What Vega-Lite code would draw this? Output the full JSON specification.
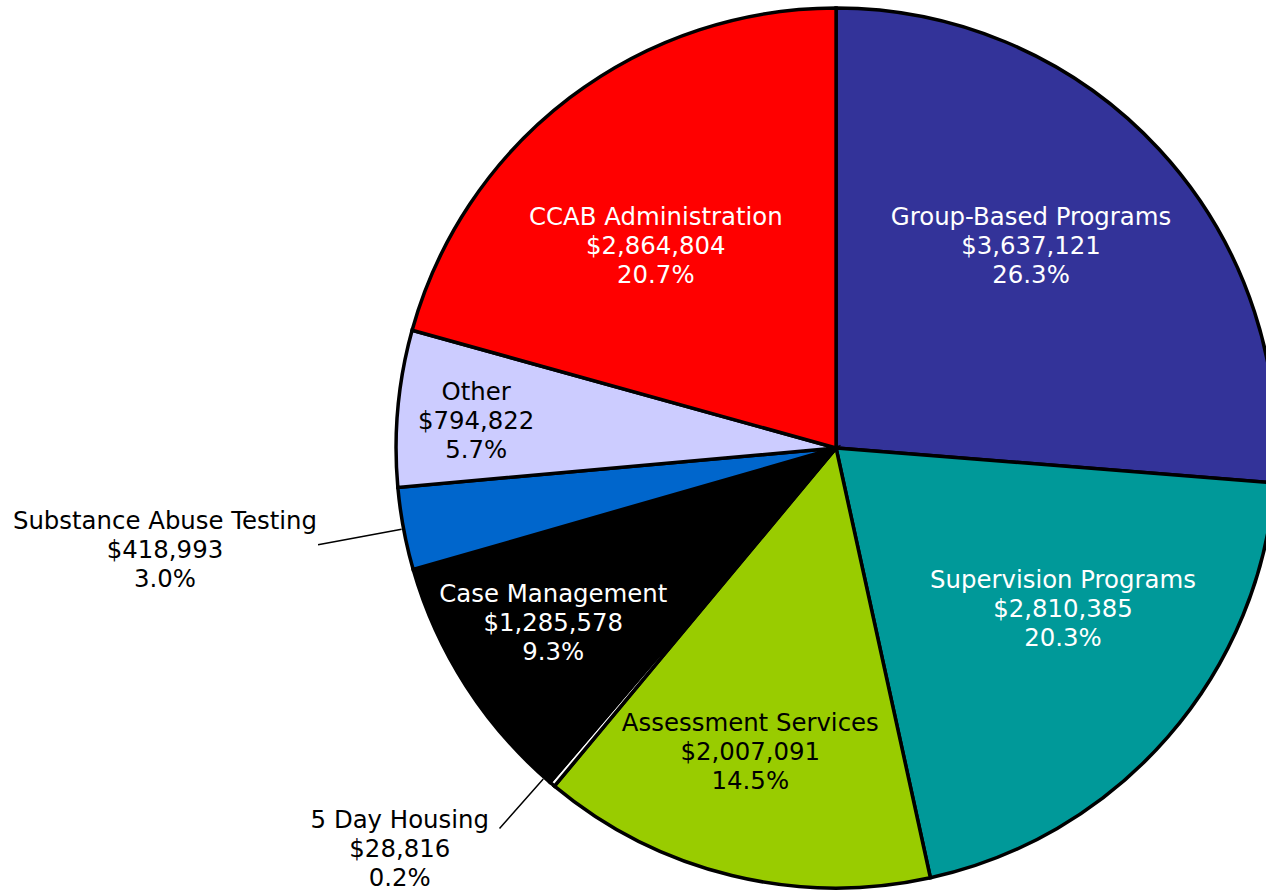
{
  "$schema": "https://vega.github.io/schema/vega-lite/v6.json",
  "width": 1266,
  "height": 891,
  "autosize": {"type": "none"},
  "padding": 0,
  "background": "white",
  "config": {
    "view": {"stroke": null},
    "mark": {"x": {"expr": "width*0.6604"}, "y": {"expr": "height/2+2.5"}},
    "text": {"font": "DejaVu Sans", "fontSize": 24.4, "lineHeight": 29, "lineBreak": "\n", "align": "center", "baseline": "middle", "dy": -27}
  },
  "data": {
    "values": [
      {"category": "Group-Based Programs", "amount": 3637121, "order": 1},
      {"category": "Supervision Programs", "amount": 2810385, "order": 2},
      {"category": "Assessment Services", "amount": 2007091, "order": 3},
      {"category": "5 Day Housing", "amount": 28816, "order": 4},
      {"category": "Case Management", "amount": 1285578, "order": 5},
      {"category": "Substance Abuse Testing", "amount": 418993, "order": 6},
      {"category": "Other", "amount": 794822, "order": 7},
      {"category": "CCAB Administration", "amount": 2864804, "order": 8}
    ]
  },
  "transform": [
    {"joinaggregate": [{"op": "sum", "field": "amount", "as": "total"}]},
    {"window": [{"op": "sum", "field": "amount", "as": "cum"}], "sort": [{"field": "order", "order": "ascending"}], "frame": [null, 0]},
    {"calculate": "(datum.cum - datum.amount) / datum.total", "as": "start"},
    {"calculate": "datum.cum / datum.total", "as": "end"},
    {"calculate": "(datum.cum - datum.amount / 2) / datum.total", "as": "mid"},
    {"calculate": "datum.category + '\\n' + format(datum.amount, '$,') + '\\n' + format(datum.amount / datum.total, '.1%')", "as": "label"}
  ],
  "layer": [
    {
      "mark": {"type": "arc", "radius": 440, "stroke": "black", "strokeWidth": 3.5, "strokeJoin": "miter"},
      "encoding": {
        "theta": {"field": "start", "type": "quantitative", "stack": null, "scale": {"type": "linear", "domain": [0, 1], "range": [0, 6.283185307179586], "zero": false, "nice": false}},
        "theta2": {"field": "end"},
        "color": {
          "field": "category", "type": "nominal", "legend": null,
          "scale": {
            "domain": ["Group-Based Programs", "Supervision Programs", "Assessment Services", "5 Day Housing", "Case Management", "Substance Abuse Testing", "Other", "CCAB Administration"],
            "range": ["#333399", "#009999", "#99CC00", "#FFFFFF", "#000000", "#0066CC", "#CCCCFF", "#FF0000"]
          }
        }
      }
    },
    {
      "transform": [{"filter": "datum.category == 'Substance Abuse Testing'"}],
      "mark": {"type": "arc", "radius": 527, "radius2": 442, "filled": false, "stroke": "black", "strokeWidth": 1.5},
      "encoding": {"theta": {"field": "mid", "type": "quantitative", "stack": null}, "theta2": {"field": "mid"}}
    },
    {
      "transform": [{"filter": "datum.category == '5 Day Housing'"}],
      "mark": {"type": "arc", "radius": 508, "radius2": 442, "thetaOffset": 0.023, "theta2Offset": 0.023, "filled": false, "stroke": "black", "strokeWidth": 1.5},
      "encoding": {"theta": {"field": "mid", "type": "quantitative", "stack": null}, "theta2": {"field": "mid"}}
    },
    {
      "transform": [{"filter": "datum.category == 'Group-Based Programs'"}],
      "mark": {"type": "text", "radius": 281.5, "thetaOffset": -0.0599, "color": "white"},
      "encoding": {"theta": {"field": "mid", "type": "quantitative", "stack": null}, "text": {"field": "label"}}
    },
    {
      "transform": [{"filter": "datum.category == 'Supervision Programs'"}],
      "mark": {"type": "text", "radius": 277.7, "thetaOffset": -0.1028, "color": "white"},
      "encoding": {"theta": {"field": "mid", "type": "quantitative", "stack": null}, "text": {"field": "label"}}
    },
    {
      "transform": [{"filter": "datum.category == 'Assessment Services'"}],
      "mark": {"type": "text", "radius": 315, "thetaOffset": 0.0365, "color": "black"},
      "encoding": {"theta": {"field": "mid", "type": "quantitative", "stack": null}, "text": {"field": "label"}}
    },
    {
      "transform": [{"filter": "datum.category == 'Case Management'"}],
      "mark": {"type": "text", "radius": 332, "thetaOffset": 0.0199, "color": "white"},
      "encoding": {"theta": {"field": "mid", "type": "quantitative", "stack": null}, "text": {"field": "label"}}
    },
    {
      "transform": [{"filter": "datum.category == 'Other'"}],
      "mark": {"type": "text", "radius": 361, "thetaOffset": -0.0136, "color": "black"},
      "encoding": {"theta": {"field": "mid", "type": "quantitative", "stack": null}, "text": {"field": "label"}}
    },
    {
      "transform": [{"filter": "datum.category == 'CCAB Administration'"}],
      "mark": {"type": "text", "radius": 271.5, "thetaOffset": -0.0761, "color": "white"},
      "encoding": {"theta": {"field": "mid", "type": "quantitative", "stack": null}, "text": {"field": "label"}}
    },
    {
      "transform": [{"filter": "datum.category == 'Substance Abuse Testing'"}],
      "mark": {"type": "text", "radius": 678.7, "thetaOffset": 0.0349, "color": "black"},
      "encoding": {"theta": {"field": "mid", "type": "quantitative", "stack": null}, "text": {"field": "label"}}
    },
    {
      "transform": [{"filter": "datum.category == '5 Day Housing'"}],
      "mark": {"type": "text", "radius": 591.7, "thetaOffset": 0.128, "color": "black"},
      "encoding": {"theta": {"field": "mid", "type": "quantitative", "stack": null}, "text": {"field": "label"}}
    }
  ]
}
